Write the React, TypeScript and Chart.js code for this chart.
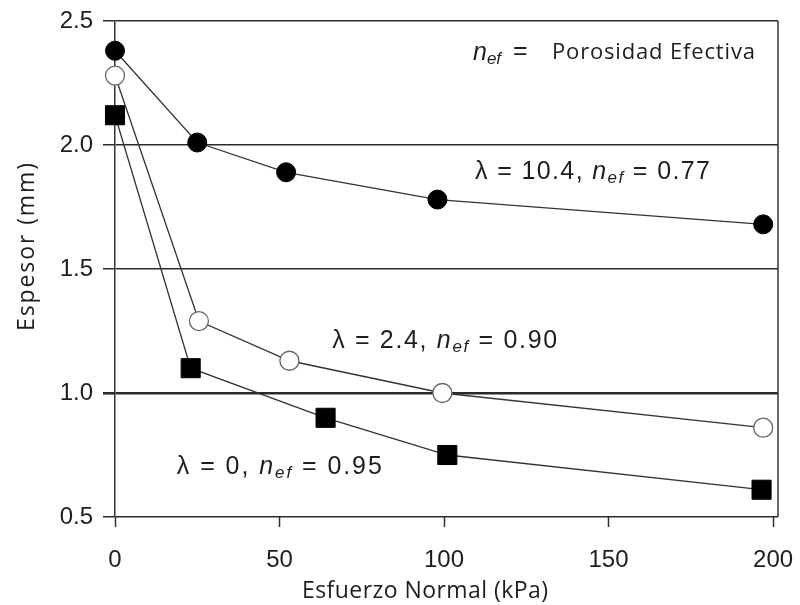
import React, { useEffect, useRef } from 'react';
import { Chart, registerables } from 'chart.js';

Chart.register(...registerables);

// Esfuerzo Normal (kPa) and Espesor (mm) for each curve
const stressLambda10 = [0, 25, 52, 98, 197];
const thickLambda10 = [2.38, 2.01, 1.89, 1.78, 1.68];

const stressLambda24 = [0, 25.5, 53, 99.5, 197];
const thickLambda24 = [2.28, 1.29, 1.13, 1.0, 0.86];

const stressLambda0 = [0, 23, 64, 101, 196.5];
const thickLambda0 = [2.12, 1.1, 0.9, 0.75, 0.61];

const xTickValues = [0, 50, 100, 150, 200];
const yTickValues = [0.5, 1.0, 1.5, 2.0, 2.5];

const xTitle = 'Esfuerzo Normal (kPa)';
const yTitle = 'Espesor (mm)';

const curveLabels = [
  { lambda: '10.4', nef: '0.77', x: 109.4, y: 1.892, width: 235 },
  { lambda: '2.4', nef: '0.90', x: 66, y: 1.208, width: 225 },
  { lambda: '0', nef: '0.95', x: 18.8, y: 0.701, width: 205 },
];
const legendNote = { text: 'Porosidad Efectiva', x: 108.8, y: 2.371 };

const SANS = '"Liberation Sans", Arial, sans-serif';
const UI = '"Open Sans", "DejaVu Sans", sans-serif';
const INK = '#1e1e1e';

function toXY(xs: number[], ys: number[]) {
  return xs.map((x, i) => ({ x, y: ys[i] }));
}

type Part = { t: string; f: string; dy?: number };

// draws text parts one glyph at a time, spreading them to a target width
function drawParts(ctx: CanvasRenderingContext2D, parts: Part[], x: number, y: number, target?: number) {
  let natural = 0;
  let chars = 0;
  parts.forEach((p) => {
    ctx.font = p.f;
    for (const ch of Array.from(p.t)) {
      natural += ctx.measureText(ch).width;
      chars += 1;
    }
  });
  const ls = target ? Math.max(0, (target - natural) / Math.max(1, chars - 1)) : 0;
  let cx = x;
  parts.forEach((p) => {
    ctx.font = p.f;
    for (const ch of Array.from(p.t)) {
      ctx.fillText(ch, cx, y + (p.dy || 0));
      cx += ctx.measureText(ch).width + ls;
    }
  });
}

const overlayPlugin = {
  id: 'overlay',
  afterDatasetsDraw(chart: any) {
    const { ctx, chartArea, scales } = chart;
    const xs = scales.x;
    const ys = scales.y;
    ctx.save();
    ctx.fillStyle = INK;
    ctx.textBaseline = 'middle';
    ctx.textAlign = 'left';

    curveLabels.forEach((l) => {
      const px = xs.getPixelForValue(l.x);
      const py = ys.getPixelForValue(l.y);
      drawParts(
        ctx,
        [
          { t: 'λ = ' + l.lambda + ', ', f: '25px ' + SANS },
          { t: 'n', f: 'italic 25px ' + SANS },
          { t: 'ef', f: 'italic 17px ' + SANS, dy: 6 },
          { t: ' = ' + l.nef, f: '25px ' + SANS },
        ],
        px,
        py,
        l.width
      );
    });

    {
      const px = xs.getPixelForValue(legendNote.x);
      const py = ys.getPixelForValue(legendNote.y);
      drawParts(
        ctx,
        [
          { t: 'n', f: 'italic 25px ' + SANS },
          { t: 'ef', f: 'italic 17px ' + SANS, dy: 6 },
        ],
        px,
        py
      );
      drawParts(ctx, [{ t: '=', f: '25px ' + SANS }], px + 40, py - 1);
      drawParts(ctx, [{ t: legendNote.text, f: '22px ' + UI }], px + 79, py, 203);
    }

    // right frame border
    ctx.strokeStyle = '#333';
    ctx.lineWidth = 1.5;
    ctx.beginPath();
    ctx.moveTo(chartArea.right, chartArea.top);
    ctx.lineTo(chartArea.right, chartArea.bottom);
    ctx.stroke();

    // axis titles
    drawParts(ctx, [{ t: xTitle, f: '23px ' + UI }], 302, 591, 246);
    ctx.translate(27, 331);
    ctx.rotate(-Math.PI / 2);
    drawParts(ctx, [{ t: yTitle, f: '23px ' + UI }], 0, 0, 168);
    ctx.restore();
  },
};

export default function App() {
  const ref = useRef<HTMLCanvasElement | null>(null);

  useEffect(() => {
    if (!ref.current) return;
    const lineCommon = {
      showLine: true,
      borderColor: '#333',
      borderWidth: 1.3,
      clip: false as any,
      tension: 0,
    };
    const chart = new Chart(ref.current, {
      type: 'scatter',
      data: {
        datasets: [
          {
            ...lineCommon,
            label: 'λ = 10.4',
            data: toXY(stressLambda10, thickLambda10),
            pointStyle: 'circle',
            pointRadius: 9.5,
            pointBackgroundColor: '#000',
            pointBorderColor: '#000',
            pointBorderWidth: 1,
          },
          {
            ...lineCommon,
            label: 'λ = 2.4',
            data: toXY(stressLambda24, thickLambda24),
            pointStyle: 'circle',
            pointRadius: 9.5,
            pointBackgroundColor: '#fff',
            pointBorderColor: '#666',
            pointBorderWidth: 1.3,
          },
          {
            ...lineCommon,
            label: 'λ = 0',
            data: toXY(stressLambda0, thickLambda0),
            pointStyle: 'rect',
            pointRadius: 13.5,
            pointBackgroundColor: '#000',
            pointBorderColor: '#000',
            pointBorderWidth: 1,
          },
        ],
      },
      options: {
        animation: false,
        responsive: true,
        maintainAspectRatio: false,
        layout: { padding: { left: 0, right: 22, top: 21, bottom: 0 } },
        plugins: { legend: { display: false }, tooltip: { enabled: false } },
        scales: {
          x: {
            type: 'linear',
            min: 0,
            max: 201.5,
            afterBuildTicks: (s: any) => {
              s.ticks = xTickValues.map((v) => ({ value: v }));
            },
            afterFit: (s: any) => {
              s.height = 88;
              s.paddingLeft = 0;
              s.paddingRight = 0;
            },
            grid: {
              drawOnChartArea: false,
              drawTicks: true,
              tickLength: 10,
              tickColor: '#333',
              tickWidth: 1.5,
            },
            border: { display: false },
            ticks: {
              color: INK,
              font: { family: SANS, size: 24 },
              padding: 19,
              maxRotation: 0,
              autoSkip: false,
            },
          },
          y: {
            type: 'linear',
            min: 0.5,
            max: 2.5,
            afterBuildTicks: (s: any) => {
              s.ticks = yTickValues.map((v) => ({ value: v }));
            },
            afterFit: (s: any) => {
              s.width = 115;
              s.paddingTop = 0;
              s.paddingBottom = 0;
            },
            grid: {
              color: '#2a2a2a',
              lineWidth: (c: any) => (c.tick && c.tick.value === 1.0 ? 2.6 : 1.5),
              drawTicks: true,
              tickLength: 12,
            },
            border: { display: true, color: '#333', width: 1.5 },
            ticks: {
              color: INK,
              font: { family: SANS, size: 24 },
              padding: 10,
              callback: (v: any) => Number(v).toFixed(1),
            },
          },
        },
      },
      plugins: [overlayPlugin],
    });
    return () => chart.destroy();
  }, []);

  return (
    <div style={{ position: 'fixed', left: 0, top: 0, width: 800, height: 605, background: '#fff' }}>
      <canvas ref={ref} />
    </div>
  );
}
